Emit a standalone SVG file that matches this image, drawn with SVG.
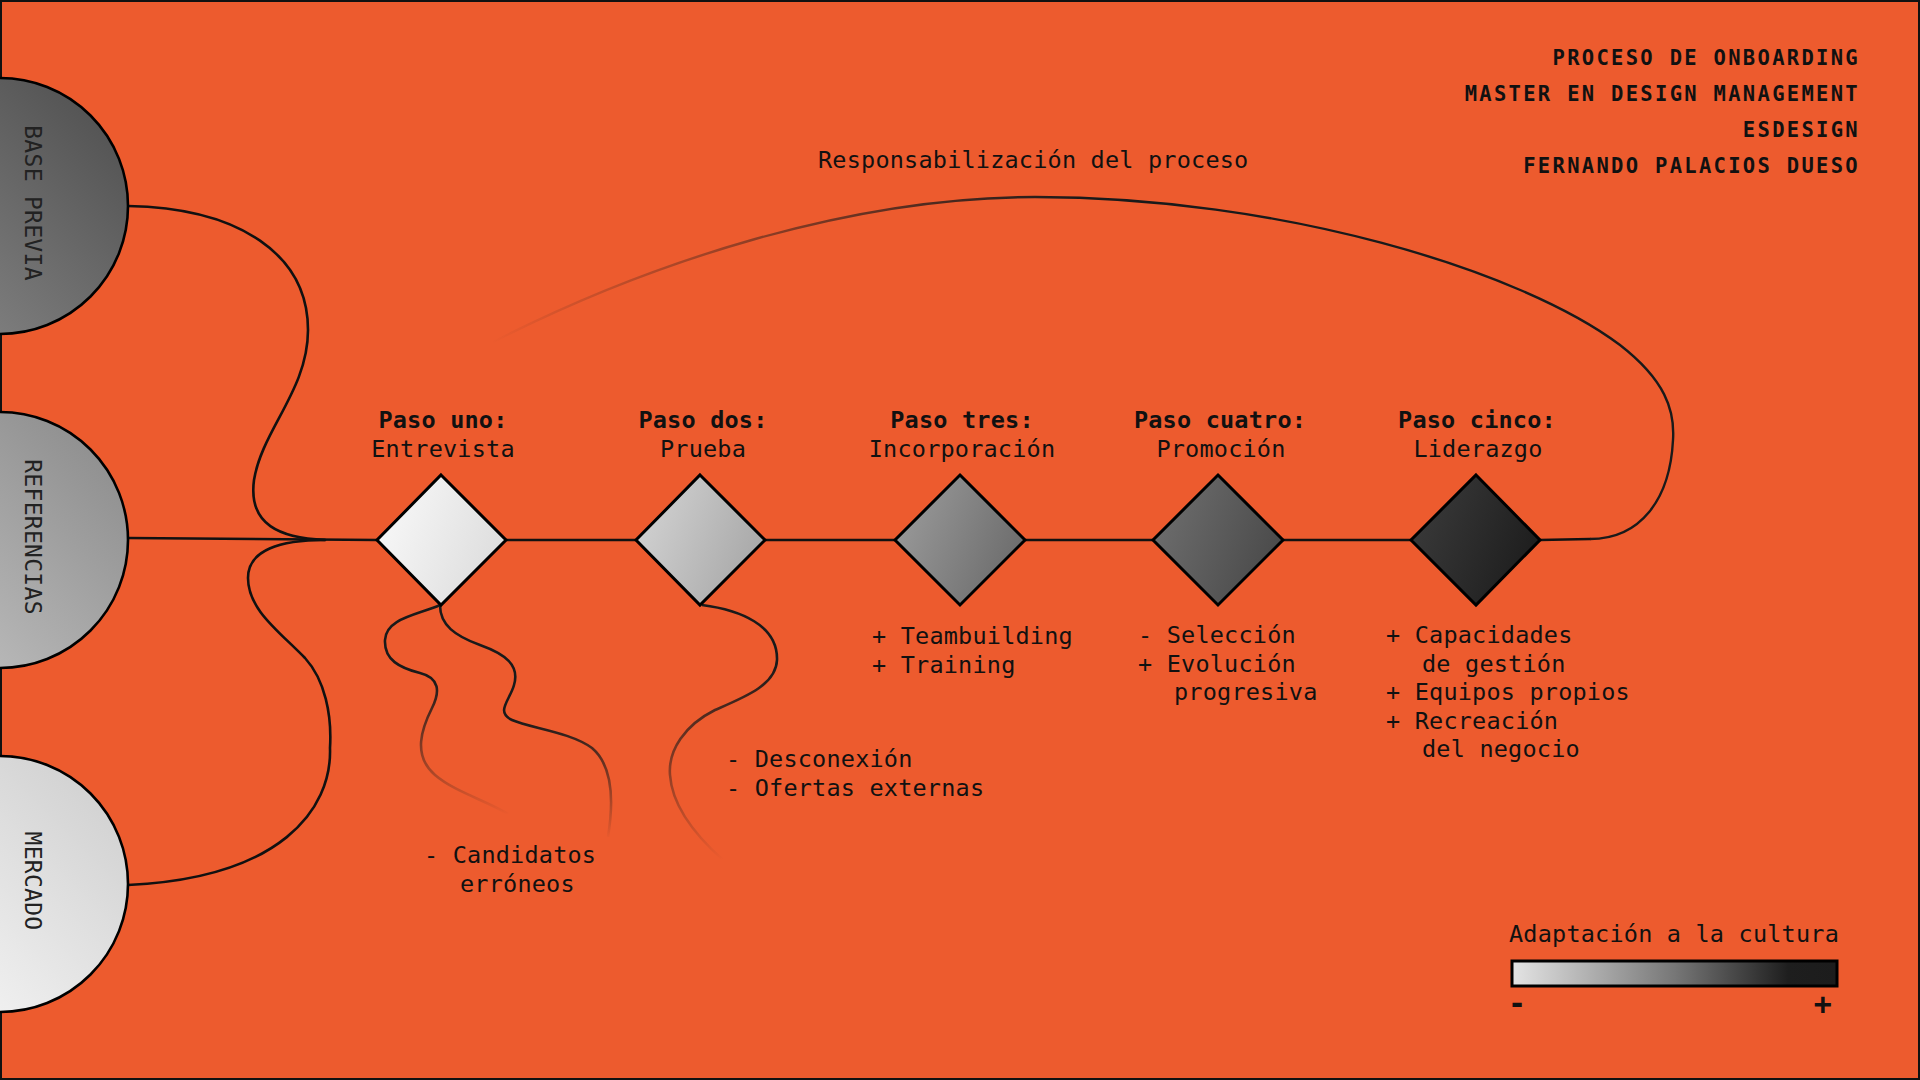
<svg xmlns="http://www.w3.org/2000/svg" width="1920" height="1080" viewBox="0 0 1920 1080">
<style>
.t{font-family:"DejaVu Sans Mono","Liberation Mono",monospace;font-size:23.5px;fill:#111;letter-spacing:0.2px}
.b{font-weight:bold}
.h{font-family:"DejaVu Sans Mono","Liberation Mono",monospace;font-size:20.5px;font-weight:bold;fill:#111;letter-spacing:2.3px}
.c{font-family:"DejaVu Sans Mono","Liberation Mono",monospace;font-size:23px;fill:#222;letter-spacing:0.3px}
.ln{fill:none;stroke:#111;stroke-width:2.6;stroke-linecap:round}
.dm{stroke:#000;stroke-width:3;stroke-linejoin:miter}
.ci{stroke:#000;stroke-width:2.6}
</style>
<defs>
<linearGradient id="gc1" x1="1" y1="0" x2="0" y2="1"><stop offset="0" stop-color="#4c4c4c"/><stop offset="1" stop-color="#8c8c8c"/></linearGradient>
<linearGradient id="gc2" x1="1" y1="0" x2="0" y2="1"><stop offset="0" stop-color="#888888"/><stop offset="1" stop-color="#c6c6c6"/></linearGradient>
<linearGradient id="gc3" x1="1" y1="0" x2="0" y2="1"><stop offset="0" stop-color="#cccccc"/><stop offset="1" stop-color="#fbfbfb"/></linearGradient>
<linearGradient id="gd1" x1="0" y1="0.3" x2="1" y2="0.7"><stop offset="0" stop-color="#f8f8f8"/><stop offset="1" stop-color="#dcdcdc"/></linearGradient>
<linearGradient id="gd2" x1="0" y1="0.3" x2="1" y2="0.7"><stop offset="0" stop-color="#d2d2d2"/><stop offset="1" stop-color="#a6a6a6"/></linearGradient>
<linearGradient id="gd3" x1="0" y1="0.3" x2="1" y2="0.7"><stop offset="0" stop-color="#9a9a9a"/><stop offset="1" stop-color="#6a6a6a"/></linearGradient>
<linearGradient id="gd4" x1="0" y1="0.3" x2="1" y2="0.7"><stop offset="0" stop-color="#6e6e6e"/><stop offset="1" stop-color="#484848"/></linearGradient>
<linearGradient id="gd5" x1="0" y1="0.3" x2="1" y2="0.7"><stop offset="0" stop-color="#3a3a3a"/><stop offset="1" stop-color="#1c1c1c"/></linearGradient>
<linearGradient id="gleg" x1="0" y1="0" x2="1" y2="0"><stop offset="0" stop-color="#e4e4e4"/><stop offset="0.5" stop-color="#777777"/><stop offset="0.85" stop-color="#1e1e1e"/><stop offset="1" stop-color="#1c1c1c"/></linearGradient>
<linearGradient id="garc" gradientUnits="userSpaceOnUse" x1="490" y1="0" x2="1080" y2="0"><stop offset="0" stop-color="#1a1a1a" stop-opacity="0"/><stop offset="1" stop-color="#1a1a1a" stop-opacity="1"/></linearGradient>
<linearGradient id="gf1" gradientUnits="userSpaceOnUse" x1="0" y1="680" x2="0" y2="815"><stop offset="0" stop-color="#1a1a1a" stop-opacity="1"/><stop offset="1" stop-color="#1a1a1a" stop-opacity="0"/></linearGradient>
<linearGradient id="gf2" gradientUnits="userSpaceOnUse" x1="0" y1="720" x2="0" y2="840"><stop offset="0" stop-color="#1a1a1a" stop-opacity="1"/><stop offset="1" stop-color="#1a1a1a" stop-opacity="0"/></linearGradient>
<linearGradient id="gf3" gradientUnits="userSpaceOnUse" x1="0" y1="665" x2="0" y2="860"><stop offset="0" stop-color="#1a1a1a" stop-opacity="1"/><stop offset="1" stop-color="#1a1a1a" stop-opacity="0"/></linearGradient>
</defs>
<rect x="1" y="1" width="1918" height="1078" fill="#ED5B2E" stroke="#111" stroke-width="2"/>

<g id="connectors">
<path class="ln" d="M128,206 C240,208 308,255 308,330 C308,390 262,430 254,480 C248,525 280,538 325,540"/>
<path class="ln" d="M325,540 C280,540 248,550 248,578 C248,610 280,632 305,658 C325,680 332,715 330,748 C332,810 280,878 128,885"/>
<path class="ln" d="M128,538 L377,540"/>
<path class="ln" d="M506,540 L636,540"/>
<path class="ln" d="M765,540 L895,540"/>
<path class="ln" d="M1025,540 L1153,540"/>
<path class="ln" d="M1283,540 L1411,540"/>
<path class="ln" d="M1540,540 L1590,539"/>
<path fill="none" stroke="url(#garc)" stroke-width="2.4" d="M493,342 C650,262 850,197 1035,197 C1280,197 1520,270 1620,345 C1665,380 1675,410 1673,440 C1670,500 1640,539 1590,539"/>
<path fill="none" stroke="url(#gf1)" stroke-width="2.6" d="M440,605 C418,615 386,618 385,640 C384,660 400,668 420,673 C440,678 440,692 432,708 C422,728 412,755 435,775 C455,792 485,800 508,814"/>
<path fill="none" stroke="url(#gf2)" stroke-width="2.6" d="M440,605 C440,625 455,636 480,645 C505,654 520,665 514,685 C510,700 495,712 512,720 C530,728 570,732 592,748 C612,765 614,800 608,837"/>
<path fill="none" stroke="url(#gf3)" stroke-width="2.6" d="M702,605 C740,610 778,625 777,660 C776,685 745,697 715,710 C685,725 668,750 670,775 C672,805 695,835 723,860"/>
</g>

<g id="base-previa">
<circle class="ci" cx="0" cy="206" r="128" fill="url(#gc1)"/>
<text class="c" transform="translate(25,203) rotate(90)" text-anchor="middle">BASE PREVIA</text>
</g>
<g id="referencias">
<circle class="ci" cx="0" cy="540" r="128" fill="url(#gc2)"/>
<text class="c" transform="translate(25,537) rotate(90)" text-anchor="middle">REFERENCIAS</text>
</g>
<g id="mercado">
<circle class="ci" cx="0" cy="884" r="128" fill="url(#gc3)"/>
<text class="c" transform="translate(25,881) rotate(90)" text-anchor="middle">MERCADO</text>
</g>

<g id="paso-uno">
<polygon class="dm" points="441,475 506,540 441,605 377,540" fill="url(#gd1)"/>
<text class="t b" x="443" y="428" text-anchor="middle">Paso uno:</text>
<text class="t" x="443" y="457" text-anchor="middle">Entrevista</text>
<text class="t" x="424" y="863">- Candidatos</text>
<text class="t" x="460" y="892">erróneos</text>
</g>
<g id="paso-dos">
<polygon class="dm" points="700,475 765,540 700,605 636,540" fill="url(#gd2)"/>
<text class="t b" x="703" y="428" text-anchor="middle">Paso dos:</text>
<text class="t" x="703" y="457" text-anchor="middle">Prueba</text>
<text class="t" x="726" y="767">- Desconexión</text>
<text class="t" x="726" y="796">- Ofertas externas</text>
</g>
<g id="paso-tres">
<polygon class="dm" points="960,475 1025,540 960,605 895,540" fill="url(#gd3)"/>
<text class="t b" x="962" y="428" text-anchor="middle">Paso tres:</text>
<text class="t" x="962" y="457" text-anchor="middle">Incorporación</text>
<text class="t" x="872" y="644">+ Teambuilding</text>
<text class="t" x="872" y="673">+ Training</text>
</g>
<g id="paso-cuatro">
<polygon class="dm" points="1218,475 1283,540 1218,605 1153,540" fill="url(#gd4)"/>
<text class="t b" x="1220" y="428" text-anchor="middle">Paso cuatro:</text>
<text class="t" x="1221" y="457" text-anchor="middle">Promoción</text>
<text class="t" x="1138" y="643">- Selección</text>
<text class="t" x="1138" y="672">+ Evolución</text>
<text class="t" x="1174" y="700">progresiva</text>
</g>
<g id="paso-cinco">
<polygon class="dm" points="1476,475 1540,540 1476,605 1411,540" fill="url(#gd5)"/>
<text class="t b" x="1477" y="428" text-anchor="middle">Paso cinco:</text>
<text class="t" x="1478" y="457" text-anchor="middle">Liderazgo</text>
<text class="t" x="1386" y="643">+ Capacidades</text>
<text class="t" x="1422" y="672">de gestión</text>
<text class="t" x="1386" y="700">+ Equipos propios</text>
<text class="t" x="1386" y="729">+ Recreación</text>
<text class="t" x="1422" y="757">del negocio</text>
</g>

<g id="responsabilizacion">
<text class="t" x="818" y="168">Responsabilización del proceso</text>
</g>

<g id="titulo">
<text class="h" x="1860" y="65" text-anchor="end">PROCESO DE ONBOARDING</text>
<text class="h" x="1860" y="101" text-anchor="end">MASTER EN DESIGN MANAGEMENT</text>
<text class="h" x="1860" y="137" text-anchor="end">ESDESIGN</text>
<text class="h" x="1860" y="173" text-anchor="end">FERNANDO PALACIOS DUESO</text>
</g>

<g id="leyenda">
<text class="t" x="1509" y="942">Adaptación a la cultura</text>
<rect x="1512" y="961" width="325" height="25" fill="url(#gleg)" stroke="#000" stroke-width="3"/>
<text class="t b" x="1508" y="1014" style="font-size:30px">-</text>
<text class="t b" x="1823" y="1014" text-anchor="middle" style="font-size:30px">+</text>
</g>
</svg>
